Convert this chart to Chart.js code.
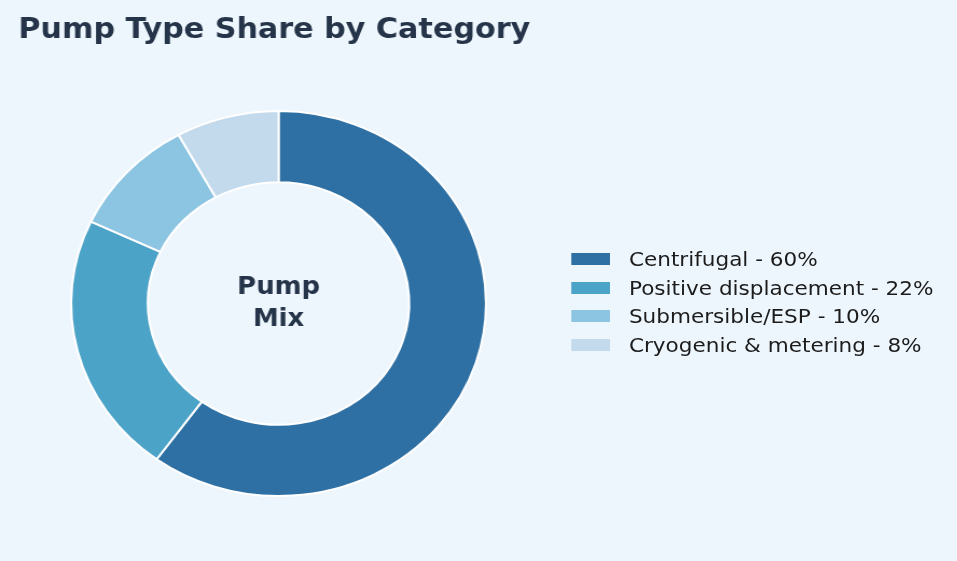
<!DOCTYPE html>
<html>
<head>
<meta charset="utf-8">
<script src="https://cdn.jsdelivr.net/npm/chart.js@4"></script>
<style>
  html, body { margin: 0; padding: 0; background: #eef6fd; overflow: hidden; }
  /* source figure is slightly wider than tall, so draw at 888 and stretch to 957 */
  #stage { position: absolute; left: 0; top: 0; width: 888px; height: 561px;
           transform: scaleX(1.0777); transform-origin: 0 0; }
  #wrap { position: absolute; left: 0; top: 0; width: 888px; height: 561px; }
  #legend { position: absolute; left: 530px; top: 244.6px; font-family: 'DejaVu Sans', sans-serif;
            font-size: 20px; color: #1c1c1c; }
  .row { display: flex; align-items: center; height: 28.7px; white-space: nowrap; }
  .sw { width: 36px; height: 12px; margin-right: 17.6px; flex: none; }
</style>
</head>
<body>
<div id="stage">
  <div id="wrap"><canvas id="pie"></canvas></div>
  <div id="legend"></div>
</div>
<script>
// ── Data ─────────────────────────────────────────────────────────────────
const categories = ['Centrifugal', 'Positive displacement', 'Submersible/ESP', 'Cryogenic & metering'];
const shares     = [60, 22, 10, 8];
const colors     = ['#2e70a3', '#4ca3c8', '#8cc5e2', '#c3d9ec'];
const centerText = ['Pump', 'Mix'];

const INK = '#253449';
Chart.defaults.font.family = "'DejaVu Sans', sans-serif";

// ── Centre label ─────────────────────────────────────────────────────────
const centerLabel = {
  id: 'centerLabel',
  afterDraw(chart) {
    const { ctx, chartArea: a } = chart;
    const cx = (a.left + a.right) / 2;
    const cy = (a.top + a.bottom) / 2;
    ctx.save();
    ctx.font = "bold 24px 'DejaVu Sans', sans-serif";
    ctx.fillStyle = INK;
    ctx.textAlign = 'center';
    ctx.textBaseline = 'alphabetic';
    ctx.fillText(centerText[0], cx, cy - 9.5);
    ctx.fillText(centerText[1], cx, cy + 22);
    ctx.restore();
  }
};

new Chart(document.getElementById('pie'), {
  type: 'doughnut',
  data: {
    labels: categories,
    datasets: [{
      data: shares,
      backgroundColor: colors,
      borderColor: '#ffffff',
      borderWidth: 2,
      hoverOffset: 0,
    }]
  },
  options: {
    responsive: true,
    maintainAspectRatio: false,
    animation: false,
    cutout: '63%',
    layout: { padding: { left: 17, right: 388, top: 0, bottom: 64 } },
    plugins: {
      legend: { display: false },
      tooltip: { enabled: false },
      title: {
        display: true,
        text: 'Pump Type Share by Category',
        align: 'start',
        color: INK,
        font: { size: 28, weight: 'bold' },
        padding: { top: 13.5, bottom: 63 },
      }
    }
  },
  plugins: [centerLabel]
});

// ── Legend (html, built from the same arrays) ────────────────────────────
const legend = document.getElementById('legend');
categories.forEach((name, i) => {
  const row = document.createElement('div');
  row.className = 'row';
  const sw = document.createElement('span');
  sw.className = 'sw';
  sw.style.background = colors[i];
  const txt = document.createElement('span');
  txt.textContent = `${name} - ${shares[i]}%`;
  row.appendChild(sw);
  row.appendChild(txt);
  legend.appendChild(row);
});
</script>
</body>
</html>
